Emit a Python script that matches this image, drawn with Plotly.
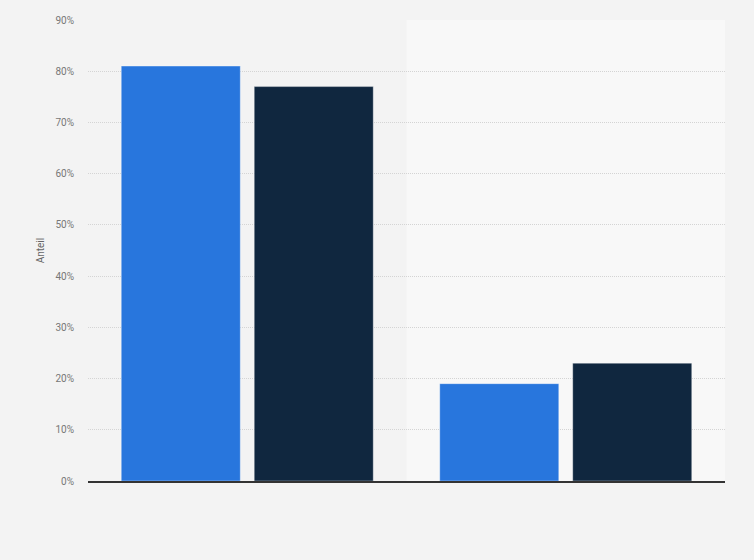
import plotly.graph_objects as go

categories = ["Kategorie 1", "Kategorie 2"]
series_names = ["Serie 1", "Serie 2"]
series_a = [81, 19]
series_b = [77, 23]
tick_vals = [0, 10, 20, 30, 40, 50, 60, 70, 80, 90]
tick_text = [f"{v}%" for v in tick_vals]

colors = ["#2876dd", "#10273f"]

fig = go.Figure()
for name, vals, col in zip(series_names, [series_a, series_b], colors):
    fig.add_trace(go.Bar(
        x=categories, y=vals, name=name,
        marker=dict(color=col, line=dict(color="rgba(255,255,255,0.35)", width=1)),
        hovertemplate="%{y}%<extra>" + name + "</extra>",
    ))

# lighter background band for the second category
fig.add_shape(type="rect", xref="x", yref="paper", x0=0.5, x1=1.5, y0=0, y1=1,
              fillcolor="#f8f8f8", line=dict(width=0), layer="below")

fig.update_layout(
    width=754, height=560,
    margin=dict(l=88, r=29, t=20, b=79),
    paper_bgcolor="#f3f3f3", plot_bgcolor="#f3f3f3",
    barmode="group", bargap=0.165, bargroupgap=0.105,
    showlegend=False,
    font=dict(family="Roboto, Arial, sans-serif", size=10, color="#666666"),
    xaxis=dict(showticklabels=False, showgrid=False, zeroline=False,
               showline=True, linecolor="#333333", linewidth=1.5,
               range=[-0.5, 1.5], ticks=""),
    yaxis=dict(range=[0, 90], tickvals=tick_vals, ticktext=tick_text,
               showgrid=True, gridcolor="#d4d4d4", griddash="1px,1px", gridwidth=1,
               zeroline=False, showline=False, ticks="", ticklen=0,
               ticklabelstandoff=13,
               title=dict(text="Anteil", font=dict(size=10, color="#666666"), standoff=8),
               tickfont=dict(size=10, color="#777777")),
)

fig.write_html("out.html", config={"displayModeBar": False},
               post_script="document.body.style.margin='0';document.body.style.background='#f3f3f3';")
